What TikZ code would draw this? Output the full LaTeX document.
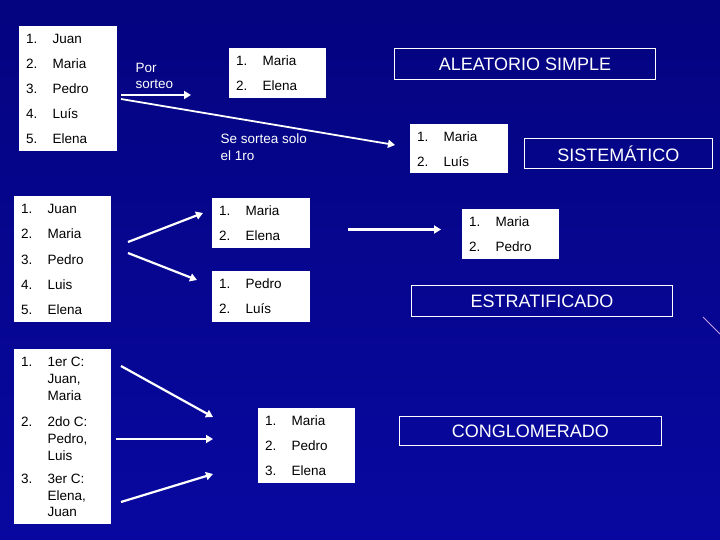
\documentclass[tikz,border=0pt]{standalone}
\usepackage{fontspec}
\setmainfont{Liberation Sans}
\usetikzlibrary{arrows.meta}
\definecolor{bgtop}{RGB}{4,4,128}
\definecolor{bgbot}{RGB}{8,8,160}
\definecolor{streak}{RGB}{200,160,230}
\tikzset{
  listbox/.style={fill=white, draw=none, anchor=north west, inner sep=0pt},
  item/.style={anchor=base west, inner sep=0pt, text=black, font=\fontsize{13.5}{16.7}\selectfont},
  wlabel/.style={anchor=base west, inner sep=0pt, text=white, font=\fontsize{13.5}{16.7}\selectfont},
  titlebox/.style={draw=white, line width=0.9pt, inner sep=0pt, anchor=north west, text=white, font=\fontsize{18}{21}\selectfont},
  arr/.style={draw=white, line width=2.2pt, -{Triangle[length=7pt,width=8pt]}},
}
\newcommand\mkitem[5]{%
  \node[item] (#1n) at (#2,#3) {#4};
  \node[item] (#1t) at ({#2+26.5},#3) {#5};}
\begin{document}
\begin{tikzpicture}[x=1pt,y=-1pt]
\shade[top color=bgtop, bottom color=bgbot] (0,0) rectangle (720,540);
\useasboundingbox (0,0) rectangle (720,540);
\draw[streak, line width=1pt] (703,317) -- (720,334);

% ---------- Aleatorio simple ----------
\node[listbox, minimum width=98pt, minimum height=125pt] (b1) at (19,26) {};
\mkitem{b1a}{26}{43.7}{1.}{Juan}
\mkitem{b1b}{26}{68.7}{2.}{Maria}
\mkitem{b1c}{26}{93.7}{3.}{Pedro}
\mkitem{b1d}{26}{118.7}{4.}{Luís}
\mkitem{b1e}{26}{143.7}{5.}{Elena}

\node[wlabel] (por) at (135.5,72.3) {\begin{tabular}[t]{@{}l@{}}Por\\sorteo\end{tabular}};

\node[listbox, minimum width=97pt, minimum height=50pt] (b2) at (229,48) {};
\mkitem{b2a}{236}{65.7}{1.}{Maria}
\mkitem{b2b}{236}{91}{2.}{Elena}

\node[titlebox, minimum width=261pt, minimum height=31pt] (t1) at (394,48) {ALEATORIO SIMPLE};

\coordinate (a1s) at (121,95);
\coordinate (a1e) at (191,95);
\draw[arr] (a1s) -- (a1e);

% ---------- Sistematico ----------
\node[wlabel] (sorteo) at (220.5,144) {\begin{tabular}[t]{@{}l@{}}Se sortea solo\\el 1ro\end{tabular}};

\node[listbox, minimum width=98pt, minimum height=49pt] (b3) at (410,124) {};
\mkitem{b3a}{417}{141.7}{1.}{Maria}
\mkitem{b3b}{417}{166.7}{2.}{Luís}

\node[titlebox, minimum width=188pt, minimum height=30pt] (t2) at (524,138) {SISTEMÁTICO};

\coordinate (a2s) at (121,99);
\coordinate (a2e) at (395,145);
\draw[arr, line width=1.8pt] (a2s) -- (a2e);

% ---------- Estratificado ----------
\node[listbox, minimum width=97pt, minimum height=126pt] (b4) at (14,196) {};
\mkitem{b4a}{21}{213.7}{1.}{Juan}
\mkitem{b4b}{21}{238.9}{2.}{Maria}
\mkitem{b4c}{21}{264.1}{3.}{Pedro}
\mkitem{b4d}{21}{289.3}{4.}{Luis}
\mkitem{b4e}{21}{314.5}{5.}{Elena}

\node[listbox, minimum width=98pt, minimum height=50pt] (b5) at (212,198) {};
\mkitem{b5a}{219}{215.7}{1.}{Maria}
\mkitem{b5b}{219}{240.7}{2.}{Elena}

\node[listbox, minimum width=98pt, minimum height=51pt] (b6) at (212,271) {};
\mkitem{b6a}{219}{288.7}{1.}{Pedro}
\mkitem{b6b}{219}{313.7}{2.}{Luís}

\node[listbox, minimum width=97pt, minimum height=50pt] (b7) at (462,209) {};
\mkitem{b7a}{469}{226.7}{1.}{Maria}
\mkitem{b7b}{469}{251.7}{2.}{Pedro}

\node[titlebox, minimum width=261pt, minimum height=31pt] (t3) at (411,285) {ESTRATIFICADO};

\coordinate (a3s) at (128,242);
\coordinate (a3e) at (203,213);
\coordinate (a4s) at (128,253);
\coordinate (a4e) at (197,280);
\coordinate (a5s) at (348,229.5);
\coordinate (a5e) at (441,229.5);
\draw[arr] (a3s) -- (a3e);
\draw[arr] (a4s) -- (a4e);
\draw[arr] (a5s) -- (a5e);

% ---------- Conglomerado ----------
\node[listbox, minimum width=97pt, minimum height=175pt] (b8) at (14,349) {};
\node[item] (b8an) at (21,366.7) {1.};
\node[item] (b8at) at (47.5,366.7) {\begin{tabular}[t]{@{}l@{}}1er C:\\Juan,\\Maria\end{tabular}};
\node[item] (b8bn) at (21,426.7) {2.};
\node[item] (b8bt) at (47.5,426.7) {\begin{tabular}[t]{@{}l@{}}2do C:\\Pedro,\\Luis\end{tabular}};
\node[item] (b8cn) at (21,483.3) {3.};
\node[item] (b8ct) at (47.5,483.3) {\begin{tabular}[t]{@{}l@{}}3er C:\\Elena,\\Juan\end{tabular}};

\node[listbox, minimum width=97pt, minimum height=75pt] (b9) at (258,408) {};
\mkitem{b9a}{265}{425.7}{1.}{Maria}
\mkitem{b9b}{265}{450.7}{2.}{Pedro}
\mkitem{b9c}{265}{475.7}{3.}{Elena}

\node[titlebox, minimum width=262pt, minimum height=29pt] (t4) at (399,416) {CONGLOMERADO};

\coordinate (a6s) at (121,366);
\coordinate (a6e) at (213,417);
\coordinate (a7s) at (116,439);
\coordinate (a7e) at (213,439);
\coordinate (a8s) at (121,502);
\coordinate (a8e) at (213,474);
\draw[arr] (a6s) -- (a6e);
\draw[arr] (a7s) -- (a7e);
\draw[arr] (a8s) -- (a8e);
\end{tikzpicture}
\end{document}
